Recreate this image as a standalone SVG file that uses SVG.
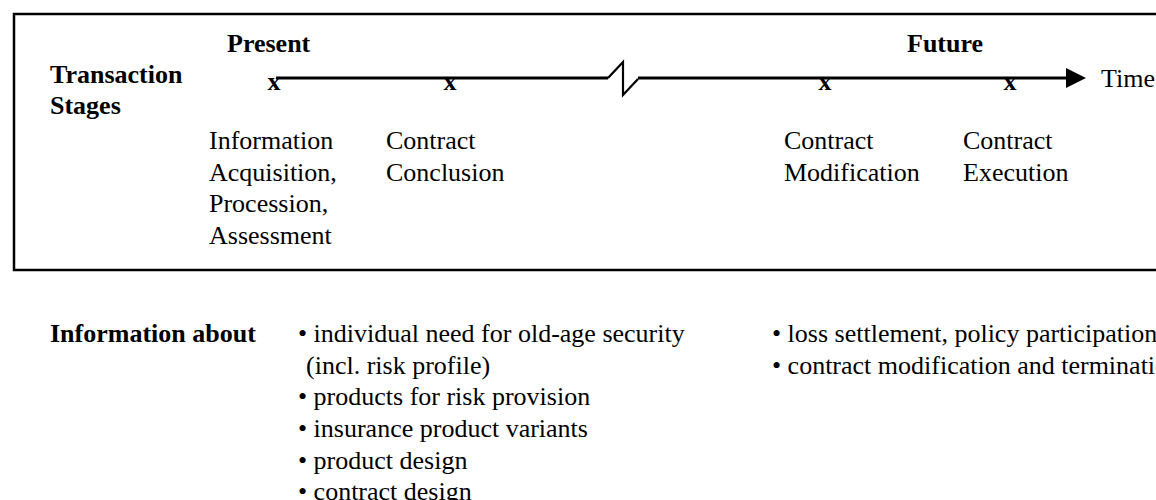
<svg xmlns="http://www.w3.org/2000/svg" width="1156" height="500" viewBox="0 0 1156 500">
<style>
text{font-family:"Liberation Serif","Times New Roman",serif;font-size:26px;fill:#000}
.b{font-weight:bold}
.mk{font-weight:bold;text-anchor:middle}
.ln{stroke:#000;stroke-width:3;fill:none}
.brk{stroke:#000;stroke-width:2.2;fill:none}
</style>
<defs>
<marker id="ah" viewBox="0 0 20 20" refX="0" refY="10" markerWidth="20" markerHeight="20" markerUnits="userSpaceOnUse" orient="auto">
<path d="M0,0 L20,10 L0,20 Z" fill="#000"/>
</marker>
</defs>
<rect width="1156" height="500" fill="#fff"/>
<g id="frame">
<rect x="14" y="14" width="1160" height="256" fill="none" stroke="#000" stroke-width="2.5"/>
</g>
<g id="connectors">
<path class="ln" d="M276,78 H608"/>
<path class="brk" d="M608,78 L623,62 V95 L638,79"/>
<path class="ln" d="M638,78 H1066" marker-end="url(#ah)"/>
</g>
<g id="labels">
<text class="b" x="50" y="83">Transaction</text>
<text class="b" x="50" y="114">Stages</text>
<text class="b" x="227" y="52">Present</text>
<text class="b" x="907" y="52">Future</text>
<text x="1101" y="87">Time</text>
</g>
<g id="stage-info">
<text class="mk" x="274" y="90">x</text>
<text x="209" y="149">Information</text>
<text x="209" y="181">Acquisition,</text>
<text x="209" y="212">Procession,</text>
<text x="209" y="244">Assessment</text>
</g>
<g id="stage-conclusion">
<text class="mk" x="450" y="90">x</text>
<text x="386" y="149">Contract</text>
<text x="386" y="181">Conclusion</text>
</g>
<g id="stage-modification">
<text class="mk" x="825" y="90">x</text>
<text x="784" y="149">Contract</text>
<text x="784" y="181">Modification</text>
</g>
<g id="stage-execution">
<text class="mk" x="1010" y="90">x</text>
<text x="963" y="149">Contract</text>
<text x="963" y="181">Execution</text>
</g>
<g id="info-about">
<text class="b" x="50" y="342">Information about</text>
<text x="298" y="342">• individual need for old-age security</text>
<text x="306" y="374">(incl. risk profile)</text>
<text x="298" y="405">• products for risk provision</text>
<text x="298" y="437">• insurance product variants</text>
<text x="298" y="469">• product design</text>
<text x="298" y="500">• contract design</text>
<text x="772" y="342">• loss settlement, policy participation</text>
<text x="772" y="374">• contract modification and termination</text>
</g>
</svg>
